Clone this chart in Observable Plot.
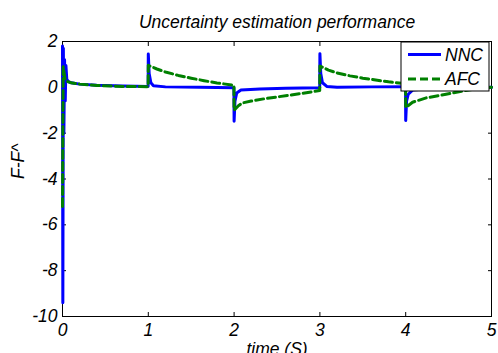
<!DOCTYPE html>
<html>
<head>
<meta charset="utf-8">
<script src="https://cdn.jsdelivr.net/npm/d3@7"></script>
<script src="https://cdn.jsdelivr.net/npm/@observablehq/plot@0.6"></script>
<style>
  body { margin: 0; background: #fff; }
</style>
</head>
<body>
<div id="chart"></div>
<script>
// Estimation error F - F^ of the neural-network controller (NNC)
const timeNNC = [0, 0.004, 0.01, 0.016, 0.024, 0.032, 0.04, 0.05, 0.07, 0.1, 0.2, 0.4, 0.7, 0.998,
  1.0, 1.01, 1.03, 1.06, 1.2, 1.6, 1.998,
  2.0, 2.01, 2.03, 2.08, 2.3, 2.6, 2.998,
  3.0, 3.01, 3.03, 3.08, 3.2, 3.6, 3.998,
  4.0, 4.01, 4.03, 4.08, 4.3, 4.6, 5.0];
const valuesNNC = [1.8, -9.4, 1.7, -2.0, 1.2, -0.6, 0.95, 0.35, 0.25, 0.2, 0.14, 0.09, 0.06, 0.04,
  1.45, 0.6, 0.2, 0.07, 0.02, 0.0, -0.02,
  -1.48, -0.6, -0.25, -0.12, -0.07, -0.04, -0.02,
  1.47, 0.6, 0.2, 0.04, 0.0, 0.02, 0.03,
  -1.45, -0.6, -0.3, -0.12, -0.05, -0.02, 0.0];

// Estimation error of the adaptive fuzzy controller (AFC)
const timeAFC = [0, 0.008, 0.03, 0.06, 0.1, 0.2, 0.4, 0.7, 0.998,
  1.0, 1.1, 1.2, 1.35, 1.5, 1.65, 1.8, 1.998,
  2.0, 2.05, 2.1, 2.2, 2.35, 2.5, 2.65, 2.8, 2.998,
  3.0, 3.1, 3.2, 3.35, 3.5, 3.65, 3.8, 3.998,
  4.0, 4.08, 4.24, 4.47, 4.65, 4.8, 5.0];
const valuesAFC = [-5.2, 0.9, 0.35, 0.25, 0.2, 0.14, 0.08, 0.04, 0.03,
  0.96, 0.8, 0.67, 0.52, 0.4, 0.29, 0.19, 0.09,
  -1.0, -0.8, -0.68, -0.6, -0.5, -0.42, -0.34, -0.26, -0.14,
  0.93, 0.75, 0.63, 0.5, 0.4, 0.32, 0.24, 0.16,
  -0.88, -0.65, -0.46, -0.3, -0.17, -0.08, 0.0];

const xTicks = [0, 1, 2, 3, 4, 5];
const yTicks = [-10, -8, -6, -4, -2, 0, 2];
const seriesNames = ["NNC", "AFC"];
const seriesColors = ["#0000ff", "#008000"];
const titleText = "Uncertainty estimation performance";
const xLabel = "time (S)";
const yLabel = "F-F^";

const nnc = timeNNC.map((t, i) => ({t, v: valuesNNC[i]}));
const afc = timeAFC.map((t, i) => ({t, v: valuesAFC[i]}));

const fontFamily = "'Liberation Sans', Arial, Helvetica, sans-serif";
const fontSize = 17.5;

// Boxed legend in the top-right corner of the axes
function legendBox(index, scales, values, dimensions) {
  const {width, marginRight, marginTop} = dimensions;
  const w = 88, h = 49;
  const x0 = width - marginRight - 2 - w;
  const y0 = marginTop + 1;
  const g = d3.create("svg:g");
  g.append("rect")
    .attr("x", x0).attr("y", y0).attr("width", w).attr("height", h)
    .attr("fill", "white").attr("stroke", "black").attr("stroke-width", 1);
  seriesNames.forEach((name, i) => {
    const ly = y0 + 12.5 + i * 24.5;
    g.append("line")
      .attr("x1", x0 + 7).attr("x2", x0 + 40).attr("y1", ly).attr("y2", ly)
      .attr("stroke", seriesColors[i]).attr("stroke-width", 3)
      .attr("stroke-dasharray", i === 1 ? "8,4" : null);
    g.append("text")
      .attr("x", x0 + 44).attr("y", ly + 6.3)
      .attr("text-anchor", "start")
      .attr("fill", "black")
      .text(name);
  });
  return g.node();
}

const chart = Plot.plot({
  width: 498,
  height: 353,
  marginLeft: 62,
  marginRight: 7,
  marginTop: 41,
  marginBottom: 37,
  style: {fontFamily, fontSize: fontSize + "px", fontStyle: "italic", background: "white", overflow: "visible"},
  x: {domain: [0, 5]},
  y: {domain: [-10, 2]},
  marks: [
    Plot.frame({stroke: "black", strokeWidth: 1}),
    Plot.axisX(xTicks, {anchor: "bottom", tickSize: -4, tickPadding: 11, label: null, tickFormat: d => String(d)}),
    Plot.axisX(xTicks, {anchor: "top", tickSize: -4, label: null, tickFormat: () => ""}),
    Plot.axisY(yTicks, {anchor: "left", tickSize: -4, tickPadding: 9, label: null, tickFormat: d => String(d)}),
    Plot.axisY(yTicks, {anchor: "right", tickSize: -4, label: null, tickFormat: () => ""}),
    Plot.line(nnc, {x: "t", y: "v", stroke: seriesColors[0], strokeWidth: 3}),
    Plot.line(afc, {x: "t", y: "v", stroke: seriesColors[1], strokeWidth: 3, strokeDasharray: "8,4"}),
    legendBox,
    Plot.text([titleText], {text: d => d, frameAnchor: "top", lineAnchor: "middle", dy: -18.9, fill: "black"}),
    Plot.text([xLabel], {text: d => d, frameAnchor: "bottom", lineAnchor: "middle", dy: 32.4, fill: "black"}),
    Plot.text([yLabel], {text: d => d, frameAnchor: "left", lineAnchor: "middle", rotate: -90, dx: -44.6, fill: "black"})
  ]
});

document.getElementById("chart").appendChild(chart);
</script>
</body>
</html>
